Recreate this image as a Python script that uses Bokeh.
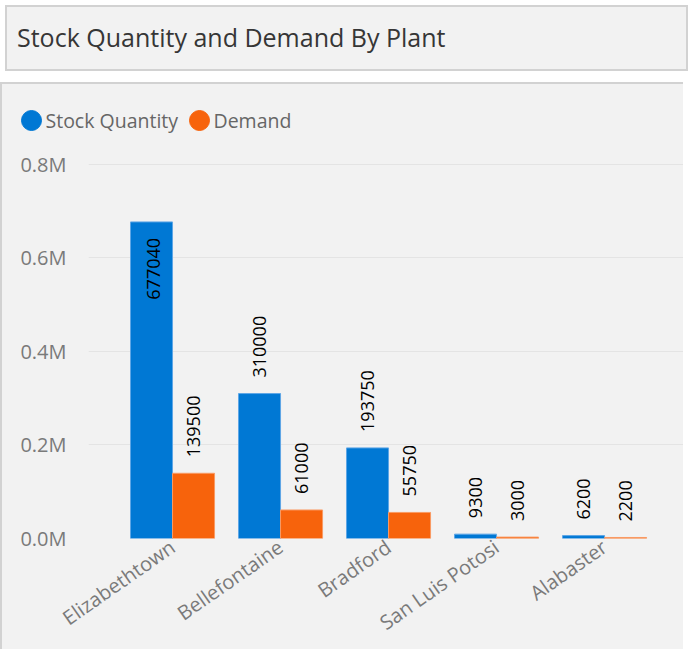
import math
from bokeh.plotting import figure
from bokeh.models import (Range1d, FixedTicker, ColumnDataSource, LabelSet, Div)
from bokeh.core.properties import value
from bokeh.layouts import column
from bokeh.transform import dodge
from bokeh.embed import file_html
from bokeh.resources import INLINE

# ---- data ----
plants = ["Elizabethtown", "Bellefontaine", "Bradford", "San Luis Potosi", "Alabaster"]
stock = [677040, 310000, 193750, 9300, 6200]
demand = [139500, 61000, 55750, 3000, 2200]
y_ticks = [0, 200000, 400000, 600000, 800000]
y_tick_labels = ["0.0M", "0.2M", "0.4M", "0.6M", "0.8M"]
series_names = ["Stock Quantity", "Demand"]

BLUE = "#0078D4"
ORANGE = "#F7630C"
FONT = "Open Sans"
PANEL = "#f2f2f2"
EDGE = "#d2d2d2"
LEG_H = 66
FIG_W = 681

idx = list(range(len(plants)))
src = ColumnDataSource(dict(x=idx, stock=stock, demand=demand))

title = Div(text="Stock Quantity and Demand By Plant", width=FIG_W + 2, height=66,
            styles={"background-color": PANEL, "border": f"2px solid {EDGE}",
                    "box-sizing": "border-box", "font-family": FONT,
                    "font-size": "25px", "color": "#363636", "padding-left": "10px",
                    "display": "flex", "align-items": "center"})

# ---- legend strip (pixel-matched ranges) ----
lf = figure(width=FIG_W, height=LEG_H, output_backend="svg", toolbar_location=None,
            x_range=Range1d(0, FIG_W), y_range=Range1d(0, LEG_H), min_border=0,
            x_axis_location=None, y_axis_location=None,
            background_fill_color=PANEL, border_fill_color=PANEL,
            outline_line_color=None)
lf.grid.visible = False
leg_src = ColumnDataSource(dict(cx=[29, 197], tx=[43, 211], y=[30, 30],
                                color=[BLUE, ORANGE], name=series_names))
lf.scatter(x="cx", y="y", source=leg_src, marker="circle", size=20,
           fill_color="color", line_color="color")
lf.text(x="tx", y="y", text="name", source=leg_src, text_font=value(FONT),
        text_font_size="19.5px", text_color="#666666", text_baseline="middle",
        text_align="left")

# ---- chart ----
p = figure(width=FIG_W, height=499, output_backend="svg", toolbar_location=None,
           x_range=Range1d(-0.778, 4.731), y_range=Range1d(0, 829787),
           min_border_left=86, min_border_right=0, min_border_top=0,
           min_border_bottom=109,
           background_fill_color=PANEL, border_fill_color=PANEL,
           outline_line_color=None)

for fig in (lf, p):
    try:
        fig.frame_align = False
    except Exception:
        pass

W = 0.389
p.vbar(x=dodge("x", -W / 2, range=p.x_range), top="stock", width=W, source=src,
       fill_color=BLUE, line_color="#5ea6e6", line_width=1)
p.vbar(x=dodge("x", W / 2, range=p.x_range), top="demand", width=W, source=src,
       fill_color=ORANGE, line_color="#f99a63", line_width=1)

# data labels
vmax = max(stock + demand)
def label_sources(vals, off):
    out_x, out_y, out_t, in_x, in_y, in_t = [], [], [], [], [], []
    for i, v in zip(idx, vals):
        if v == vmax:
            in_x.append(i + off); in_y.append(v); in_t.append(str(v))
        else:
            out_x.append(i + off); out_y.append(v); out_t.append(str(v))
    return (ColumnDataSource(dict(x=out_x, y=out_y, t=out_t)),
            ColumnDataSource(dict(x=in_x, y=in_y, t=in_t)))

for vals, off in ((stock, -W / 2), (demand, W / 2)):
    s_out, s_in = label_sources(vals, off)
    p.add_layout(LabelSet(x="x", y="y", text="t", source=s_out, angle=math.pi / 2,
                          text_align="left", text_baseline="middle", y_offset=16,
                          text_font=value(FONT), text_font_size="18px",
                          text_color="black"))
    p.add_layout(LabelSet(x="x", y="y", text="t", source=s_in, angle=math.pi / 2,
                          text_align="right", text_baseline="middle", y_offset=-16,
                          x_offset=2, text_font=value(FONT), text_font_size="18px",
                          text_color="black"))

# axes
p.xaxis.ticker = FixedTicker(ticks=idx)
p.xaxis.major_label_overrides = {i: n for i, n in zip(idx, plants)}
p.xaxis.major_label_orientation = 0.61
p.xaxis.axis_line_color = None
p.xaxis.major_tick_line_color = None
p.xaxis.minor_tick_line_color = None
p.xaxis.major_label_text_font = FONT
p.xaxis.major_label_text_font_size = "20px"
p.xaxis.major_label_text_color = "#7a7a7a"
p.xaxis.major_label_standoff = 0

p.yaxis.ticker = FixedTicker(ticks=y_ticks)
p.yaxis.major_label_overrides = {t: l for t, l in zip(y_ticks, y_tick_labels)}
p.yaxis.axis_line_color = None
p.yaxis.major_tick_line_color = None
p.yaxis.minor_tick_line_color = None
p.yaxis.major_label_text_font = FONT
p.yaxis.major_label_text_font_size = "20px"
p.yaxis.major_label_text_color = "#7a7a7a"
p.yaxis.major_label_standoff = 16

p.xgrid.grid_line_color = None
p.ygrid.grid_line_color = "#e4e4e4"
p.ygrid.grid_line_width = 1

chart = column(lf, p, spacing=0,
               styles={"border-left": f"2px solid {EDGE}",
                       "border-top": f"2px solid {EDGE}",
                       "background-color": PANEL})

layout = column(title, chart, spacing=6)
open("out.html", "w").write(file_html(layout, INLINE))
